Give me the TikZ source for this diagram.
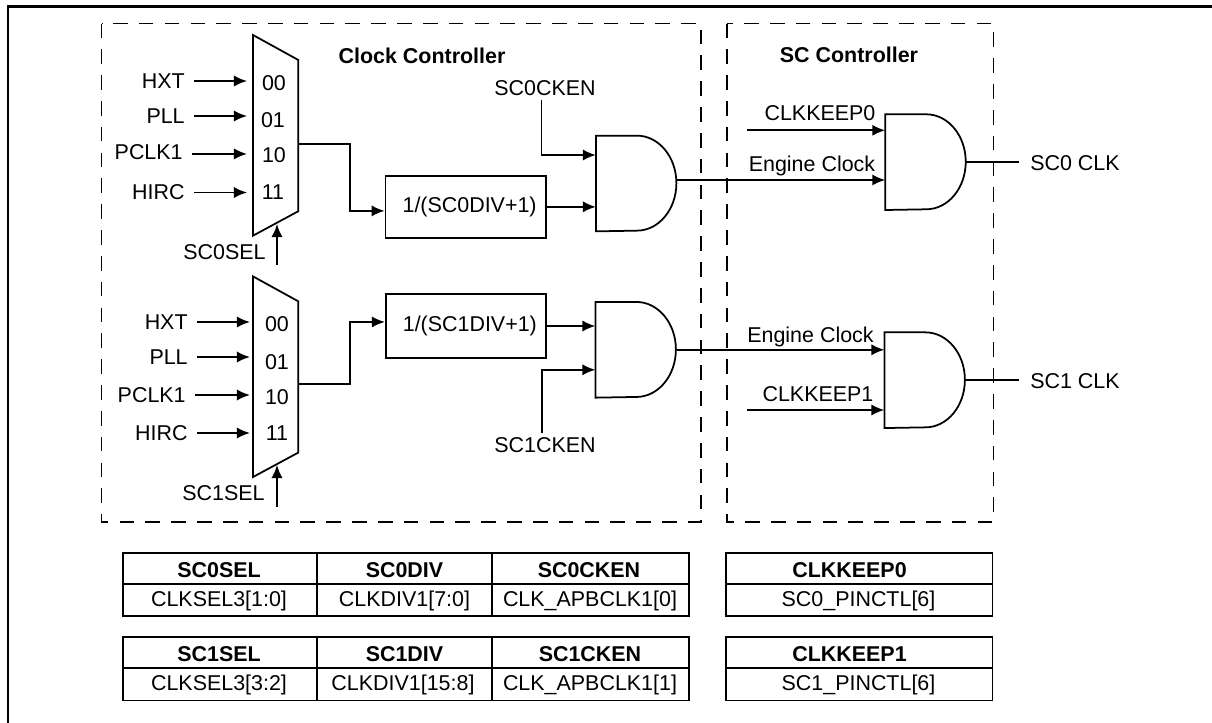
\documentclass[tikz,border=0pt]{standalone}
\usepackage{fontspec}
\setmainfont{Liberation Sans}
\usetikzlibrary{arrows.meta}
\tikzset{
  sig/.style={line width=1.1pt,-{Latex[length=7.4pt,width=6.4pt]}},
  wire/.style={line width=1.1pt},
  muxin/.style={sig,shorten <=5pt,shorten >=#1},
  gateline/.style={line width=1pt},
  muxbox/.style={minimum width=0.894cm,minimum height=4cm},
  divbox/.style={draw,line width=1pt,minimum width=3.204cm},
  andgate/.style={minimum width=1.61cm,minimum height=1.9cm},
  dashbox/.style={line width=0.95pt,dash pattern=on 8.3pt off 6.4pt},
  tabline/.style={line width=1pt}
}
\begin{document}
\begin{tikzpicture}[x=1cm,y=1cm,every node/.style={font=\fontsize{12.2}{14}\selectfont,inner sep=0pt}]
\useasboundingbox (0,0) rectangle (24.24,-14.46);
\draw[line width=1.2pt] (0.154,-14.46) -- (0.154,-0.13) -- (24.24,-0.13);
\draw[dashbox] (2.03,-0.47) rectangle (14.02,-10.44);
\draw[dashbox] (14.54,-0.47) rectangle (19.87,-10.44);
\node (clocktitle) at (8.44,-1.12) {\bfseries Clock Controller};
\node (sctitle) at (16.98,-1.10) {\bfseries SC Controller};
\node[muxbox] (mux0) at (5.513,-2.707) {};
\draw[gateline] (mux0.north west) -- ([yshift=-0.5cm]mux0.north east) -- ([yshift=0.49cm]mux0.south east) -- (mux0.south west) -- cycle;
\node[muxbox] (mux1) at (5.513,-7.534) {};
\draw[gateline] (mux1.north west) -- ([yshift=-0.5cm]mux1.north east) -- ([yshift=0.49cm]mux1.south east) -- (mux1.south west) -- cycle;
\node (d00a) at (5.48,-1.66) {00};
\node (d01a) at (5.46,-2.40) {01};
\node (d10a) at (5.48,-3.10) {10};
\node (d11a) at (5.46,-3.84) {11};
\node (d00b) at (5.54,-6.48) {00};
\node (d01b) at (5.54,-7.24) {01};
\node (d10b) at (5.54,-7.94) {10};
\node (d11b) at (5.54,-8.66) {11};
\node[anchor=east] (hxt0) at (3.70,-1.62) {HXT};
\node[anchor=east] (pll0) at (3.70,-2.32) {PLL};
\node[anchor=east] (pclk0) at (3.66,-3.04) {PCLK1};
\node[anchor=east] (hirc0) at (3.70,-3.85) {HIRC};
\node[anchor=east] (hxt1) at (3.76,-6.44) {HXT};
\node[anchor=east] (pll1) at (3.76,-7.14) {PLL};
\node[anchor=east] (pclk1) at (3.72,-7.90) {PCLK1};
\node[anchor=east] (hirc1) at (3.76,-8.66) {HIRC};
\draw[muxin=3.4pt] (hxt0.east) -- (hxt0.east -| mux0.west);
\draw[muxin=3.4pt] (pll0.east) -- (pll0.east -| mux0.west);
\draw[muxin=3.4pt] ([yshift=-1.1pt]pclk0.east) -- ([yshift=-1.1pt]pclk0.east -| mux0.west);
\draw[muxin=3.4pt] (hirc0.east) -- (hirc0.east -| mux0.west);
\draw[muxin=1.7pt] (hxt1.east) -- (hxt1.east -| mux1.west);
\draw[muxin=1.7pt] (pll1.east) -- (pll1.east -| mux1.west);
\draw[muxin=1.7pt] (pclk1.east) -- (pclk1.east -| mux1.west);
\draw[muxin=1.7pt] (hirc1.east) -- (hirc1.east -| mux1.west);
\node[anchor=east] (sel0) at (5.32,-5.04) {SC0SEL};
\node[anchor=east] (sel1) at (5.30,-9.86) {SC1SEL};
\coordinate (sel0in) at (5.54,-5.30);
\coordinate (sel0pin) at (5.54,-4.48);
\coordinate (sel1in) at (5.54,-10.14);
\coordinate (sel1pin) at (5.54,-9.30);
\draw[sig] (sel0in) -- (sel0pin);
\draw[sig] (sel1in) -- (sel1pin);
\node[divbox,minimum height=1.246cm] (div0) at (9.312,-4.137) {\hspace{0.16cm}1/(SC0DIV+1)};
\node[divbox,minimum height=1.268cm] (div1) at (9.317,-6.52) {\hspace{0.16cm}1/(SC1DIV+1)};
\coordinate (mux0out) at (5.96,-2.88);
\coordinate (mux1out) at (5.96,-7.686);
\draw[sig] (mux0out) -- ++(1.04,0) |- ([yshift=-2.3pt]div0.west);
\draw[sig] (mux1out) -- ++(1.04,0) |- ([yshift=2.3pt]div1.west);
\node[andgate] (andclk0) at (12.73,-3.67) {};
\node[andgate] (andclk1) at (12.72,-6.996) {};
\node[andgate] (andsc0) at (18.517,-3.243) {};
\node[andgate] (andsc1) at (18.5,-7.604) {};
\draw[gateline] (andclk0.north west) -- ++(0.82,0) arc[start angle=90,end angle=-90,x radius=0.79,y radius=0.95] -- (andclk0.south west) -- cycle;
\draw[gateline] (andclk1.north west) -- ++(0.82,0) arc[start angle=90,end angle=-90,x radius=0.79,y radius=0.95] -- (andclk1.south west) -- cycle;
\draw[gateline] (andsc0.north west) -- ++(0.82,0) arc[start angle=90,end angle=-90,x radius=0.79,y radius=0.95] -- (andsc0.south west) -- cycle;
\draw[gateline] (andsc1.north west) -- ++(0.82,0) arc[start angle=90,end angle=-90,x radius=0.79,y radius=0.95] -- (andsc1.south west) -- cycle;
\node (cken0) at (10.90,-1.76) {SC0CKEN};
\node (cken1) at (10.90,-8.91) {SC1CKEN};
\coordinate (cken0in) at (10.83,-2.0);
\coordinate (cken1in) at (10.846,-8.66);
\draw[sig] (cken0in) |- ([yshift=0.57cm]andclk0.west);
\draw[sig] (cken1in) |- ([yshift=-0.4cm]andclk1.west);
\draw[sig] (div0.east) -- (div0.east -| andclk0.west);
\draw[sig] (div1.east) -- (div1.east -| andclk1.west);
\draw[sig] ([yshift=2pt]andclk0.east) -- ([yshift=2pt]andclk0.east -| andsc0.west);
\draw[sig] (andclk1.east) -- (andclk1.east -| andsc1.west);
\node (engine0) at (16.24,-3.31) {Engine Clock};
\node (engine1) at (16.21,-6.73) {Engine Clock};
\node (keep0) at (16.40,-2.26) {CLKKEEP0};
\node (keep1) at (16.36,-7.88) {CLKKEEP1};
\coordinate (keep0in) at (14.934,-2.606);
\coordinate (keep1in) at (14.934,-8.2);
\draw[sig] (keep0in) -- (keep0in -| andsc0.west);
\draw[sig] (keep1in) -- (keep1in -| andsc1.west);
\node[anchor=west] (sc0clk) at (20.60,-3.26) {SC0 CLK};
\node[anchor=west] (sc1clk) at (20.60,-7.62) {SC1 CLK};
\draw[wire,shorten >=6.2pt] (andsc0.east) -- (andsc0.east -| sc0clk.west);
\draw[wire,shorten >=6.2pt] (andsc1.east) -- (andsc1.east -| sc1clk.west);
\draw[tabline] (2.466,-11.06) rectangle (6.334,-11.68);
\node (hsel0) at (4.38,-11.40) {\bfseries SC0SEL};
\draw[tabline] (6.334,-11.06) rectangle (9.846,-11.68);
\node (hdiv0) at (8.09,-11.40) {\bfseries SC0DIV};
\draw[tabline] (9.846,-11.06) rectangle (13.786,-11.68);
\node (hcken0) at (11.78,-11.40) {\bfseries SC0CKEN};
\draw[tabline] (2.466,-11.68) rectangle (6.334,-12.32);
\node (bsel0) at (4.38,-12.02) {CLKSEL3[1:0]};
\draw[tabline] (6.334,-11.68) rectangle (9.846,-12.32);
\node (bdiv0) at (8.09,-12.02) {CLKDIV1[7:0]};
\draw[tabline] (9.846,-11.68) rectangle (13.786,-12.32);
\node (bcken0) at (11.80,-12.02) {CLK\_APBCLK1[0]};
\draw[tabline] (2.466,-12.74) rectangle (6.334,-13.36);
\node (hsel1) at (4.38,-13.08) {\bfseries SC1SEL};
\draw[tabline] (6.334,-12.74) rectangle (9.846,-13.36);
\node (hdiv1) at (8.09,-13.08) {\bfseries SC1DIV};
\draw[tabline] (9.846,-12.74) rectangle (13.786,-13.36);
\node (hcken1) at (11.80,-13.08) {\bfseries SC1CKEN};
\draw[tabline] (2.466,-13.36) rectangle (6.334,-14.01);
\node (bsel1) at (4.38,-13.70) {CLKSEL3[3:2]};
\draw[tabline] (6.334,-13.36) rectangle (9.846,-14.01);
\node (bdiv1) at (8.06,-13.70) {CLKDIV1[15:8]};
\draw[tabline] (9.846,-13.36) rectangle (13.786,-14.01);
\node (bcken1) at (11.80,-13.70) {CLK\_APBCLK1[1]};
\draw[tabline] (14.52,-11.06) rectangle (19.85,-11.68);
\node (hkeep0) at (16.99,-11.40) {\bfseries CLKKEEP0};
\draw[tabline] (14.52,-11.68) rectangle (19.85,-12.32);
\node (bkeep0) at (17.17,-12.02) {SC0\_PINCTL[6]};
\draw[tabline] (14.52,-12.74) rectangle (19.85,-13.36);
\node (hkeep1) at (16.99,-13.08) {\bfseries CLKKEEP1};
\draw[tabline] (14.52,-13.36) rectangle (19.85,-14.01);
\node (bkeep1) at (17.17,-13.70) {SC1\_PINCTL[6]};
\end{tikzpicture}
\end{document}
